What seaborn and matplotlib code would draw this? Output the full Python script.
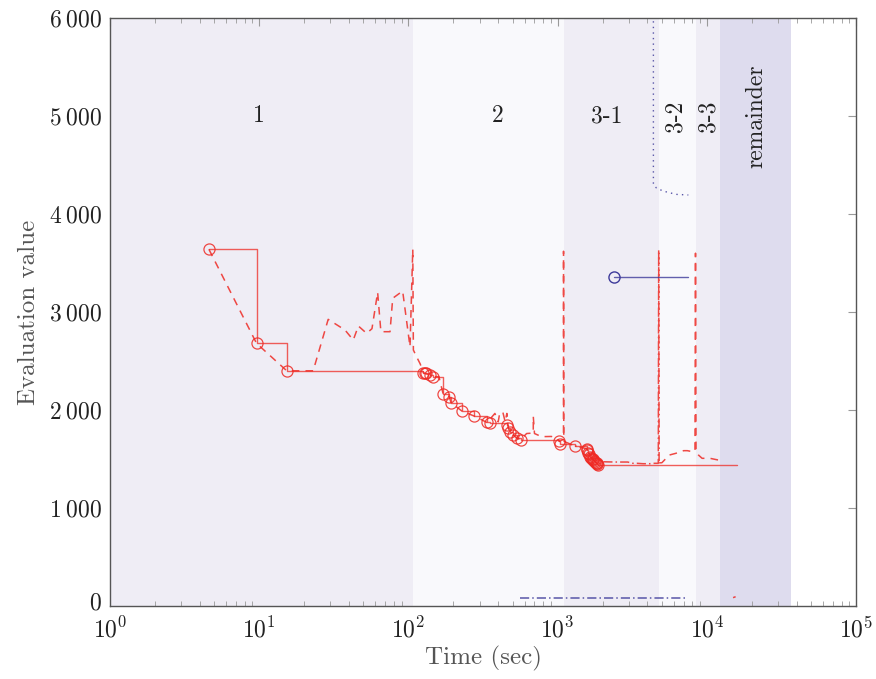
import numpy as np
import pandas as pd
import matplotlib
matplotlib.use("Agg")
import matplotlib.pyplot as plt
import matplotlib.ticker as mticker
import matplotlib.transforms as mtransforms
import seaborn as sns

# ---------------- data ----------------
# region boundaries (sec)
region_edges = [1, 107, 1100, 4790, 8470, 12250, 36650]
region_colors = ["#efedf5", "#f9f9fc", "#efedf5", "#f9f9fc", "#efedf5", "#dedcee"]
region_labels = ["1", "2", "3-1", "3-2", "3-3", "remainder"]
label_x = [10, 398, 2140, 6120, 10240, 21600]
label_rot = [0, 0, 0, 90, 90, 90]

# best-so-far (solid step line, circles at improvements)
best_t = [4.6, 9.6, 15.3, 126, 129, 132, 140, 147, 171, 188, 193, 228, 275, 338, 350,
          459, 467, 480, 500, 531, 565, 1026, 1045, 1308, 1563, 1580, 1603, 1620, 1655,
          1680, 1700, 1720, 1740, 1760, 1790, 1810, 1830, 1850, 1875]
best_v = [3640, 2680, 2400, 2381, 2378, 2374, 2360, 2340, 2163, 2136, 2075, 1990, 1939, 1875, 1865,
          1850, 1815, 1780, 1748, 1715, 1697, 1680, 1650, 1633, 1605, 1590, 1560, 1550, 1525,
          1515, 1505, 1498, 1490, 1482, 1470, 1462, 1455, 1448, 1440]
best_end_t = 15850

# current value, phases 1-2 (dashed)
cur12_t = [4.6, 9.6, 15.3, 23, 29, 37.6, 42.7, 46.2, 52.5, 57, 62.2, 65.4, 75.3, 78.5, 91.5,
           102.5, 107, 108, 112, 120, 126, 147, 160, 171, 188, 193, 228, 275, 338, 363, 380,
           400, 410, 430, 445, 457, 467, 480, 500, 531, 565, 620, 687, 687, 700, 780, 910,
           1000, 1026, 1060, 1095, 1096, 1100]
cur12_v = [3640, 2680, 2400, 2400, 2925, 2816, 2714, 2857, 2782, 2830, 3201, 2799, 2799, 3140, 3214,
           2646, 3640, 2612, 2560, 2470, 2381, 2340, 2340, 2163, 2136, 2075, 1990, 1939, 1871, 1930, 1965,
           1880, 1975, 1975, 1880, 1965, 1815, 1780, 1748, 1715, 1697, 1760, 1765, 1935, 1760, 1728, 1730,
           1700, 1680, 1690, 1700, 3620, 1680]

# current value, phase 3-1 (dash-dot)
cur31_t = [1100, 1308, 1563, 1700, 1875, 1975, 2430, 2950, 3200, 3400, 3730, 4170, 4470, 4730, 4760, 4790]
cur31_v = [1680, 1633, 1605, 1505, 1440, 1472, 1469, 1469, 1456, 1456, 1452, 1452, 1456, 1456, 3633, 1460]

# current value, phases 3-2 / 3-3 (dashed)
cur32_t = [4790, 5000, 5600, 6200, 7000, 7400, 8000, 8330, 8400, 8470, 8800, 9300, 10500, 11900, 12250]
cur32_v = [1460, 1462, 1540, 1558, 1585, 1585, 1575, 1580, 3600, 1580, 1540, 1507, 1507, 1490, 1460]

# small red remainder trace
rem_t = [15000, 15600]
rem_v = [85, 95]

# blue series
blue_best_t = [2388, 7520]
blue_best_v = [3360, 3360]
blue_dot_t = [4385, 4386, 4600, 5000, 5500, 6300, 7520]
blue_dot_v = [9000, 4300, 4265, 4240, 4220, 4200, 4194]
blue_dd_t = [560, 7140]
blue_dd_v = [85, 85]

yticks = [0, 1000, 2000, 3000, 4000, 5000, 6000]

# ---------------- style ----------------
sns.set_theme(style="white")
plt.rcParams["font.family"] = ["cmr10", "DejaVu Serif"]
plt.rcParams["mathtext.fontset"] = "cm"
plt.rcParams["axes.unicode_minus"] = False
plt.rcParams["axes.formatter.use_mathtext"] = True

RED = "#ee2a24"
BLUE = "#3d3a9a"

fig = plt.figure(figsize=(8.76, 6.79), dpi=100)
ax = fig.add_axes([110 / 876, 1 - 606 / 679, (856 - 110) / 876, (606 - 18) / 679])
ax.set_xscale("log")
ax.set_xlim(1, 1e5)
ax.set_ylim(0, 6000)

for i in range(len(region_colors)):
    ax.axvspan(region_edges[i], region_edges[i + 1], color=region_colors[i], lw=0, zorder=0)
for lx, lab, rot in zip(label_x, region_labels, label_rot):
    ax.text(lx, 5000, lab, ha="center", va="center", rotation=rot, fontsize=17, color="#222222")

# red lines
sns.lineplot(x=best_t + [best_end_t], y=best_v + [best_v[-1]], sort=False, estimator=None, ax=ax,
             color=RED, alpha=0.75, lw=1.0, drawstyle="steps-post", zorder=3)
sns.lineplot(x=best_t, y=best_v, sort=False, estimator=None, ax=ax, color=RED, linestyle="none",
             marker="o", markersize=8, markerfacecolor="none", markeredgecolor=RED,
             markeredgewidth=0.9, alpha=0.85, zorder=4)
sns.lineplot(x=cur12_t, y=cur12_v, sort=False, estimator=None, ax=ax, color=RED, alpha=0.85,
             lw=1.1, linestyle=(0, (5, 4)), zorder=3)
sns.lineplot(x=cur31_t, y=cur31_v, sort=False, estimator=None, ax=ax, color=RED, alpha=0.85,
             lw=1.1, linestyle=(0, (6, 2, 1, 2)), zorder=3)
sns.lineplot(x=cur32_t, y=cur32_v, sort=False, estimator=None, ax=ax, color=RED, alpha=0.85,
             lw=1.1, linestyle=(0, (5, 4)), zorder=3)
sns.lineplot(x=rem_t, y=rem_v, sort=False, estimator=None, ax=ax, color=RED, alpha=0.85,
             lw=1.1, linestyle=(0, (5, 4)), zorder=3)

# blue lines
sns.lineplot(x=blue_best_t, y=blue_best_v, sort=False, estimator=None, ax=ax, color=BLUE, alpha=0.8,
             lw=1.0, zorder=3)
sns.lineplot(x=blue_best_t[:1], y=blue_best_v[:1], sort=False, estimator=None, ax=ax, color=BLUE,
             linestyle="none", marker="o", markersize=8, markerfacecolor="none",
             markeredgecolor=BLUE, markeredgewidth=1.0, zorder=4)
sns.lineplot(x=blue_dot_t, y=blue_dot_v, sort=False, estimator=None, ax=ax, color=BLUE, alpha=0.85,
             lw=1.0, linestyle=(0, (1, 3)), zorder=3)
sns.lineplot(x=blue_dd_t, y=blue_dd_v, sort=False, estimator=None, ax=ax, color=BLUE, alpha=0.85,
             lw=1.1, linestyle=(0, (6, 2, 1, 2)), zorder=3)

# axes
ax.set_yticks(yticks)
ax.yaxis.set_major_formatter(mticker.FuncFormatter(
    lambda v, p: r"$%d\:%03d$" % (v // 1000, v % 1000) if v >= 1000 else r"$0$"))
ax.xaxis.set_major_locator(mticker.LogLocator(base=10, numticks=10))
ax.xaxis.set_minor_locator(mticker.LogLocator(base=10, subs=np.arange(2, 10), numticks=100))
ax.xaxis.set_major_formatter(mticker.LogFormatterMathtext())
ax.tick_params(axis="both", which="major", direction="in", length=6, width=0.8, color="#9a9a9a",
               labelsize=17, labelcolor="#222222", top=True, right=True)
ax.tick_params(axis="y", which="major", pad=6)
ax.tick_params(axis="x", which="major", pad=8)
ax.tick_params(axis="x", which="minor", direction="in", length=3.5, width=0.6, color="#9a9a9a",
               top=True, bottom=True)
for s in ax.spines.values():
    s.set_color("#555555")
    s.set_linewidth(1.0)
ax.set_xlabel("Time (sec)", fontsize=18, color="#555555", labelpad=2)
ax.set_ylabel("Evaluation value", fontsize=18, color="#555555", labelpad=6)
ax.grid(False)
if ax.get_legend():
    ax.get_legend().remove()

# nudge the "0" y tick label up slightly so it does not collide with 10^0
fig.canvas.draw()
ylabels = ax.get_yticklabels()
if ylabels:
    off = mtransforms.ScaledTranslation(0, 4 / 72, fig.dpi_scale_trans)
    ylabels[0].set_transform(ylabels[0].get_transform() + off)

fig.savefig("out.png", dpi=100)
